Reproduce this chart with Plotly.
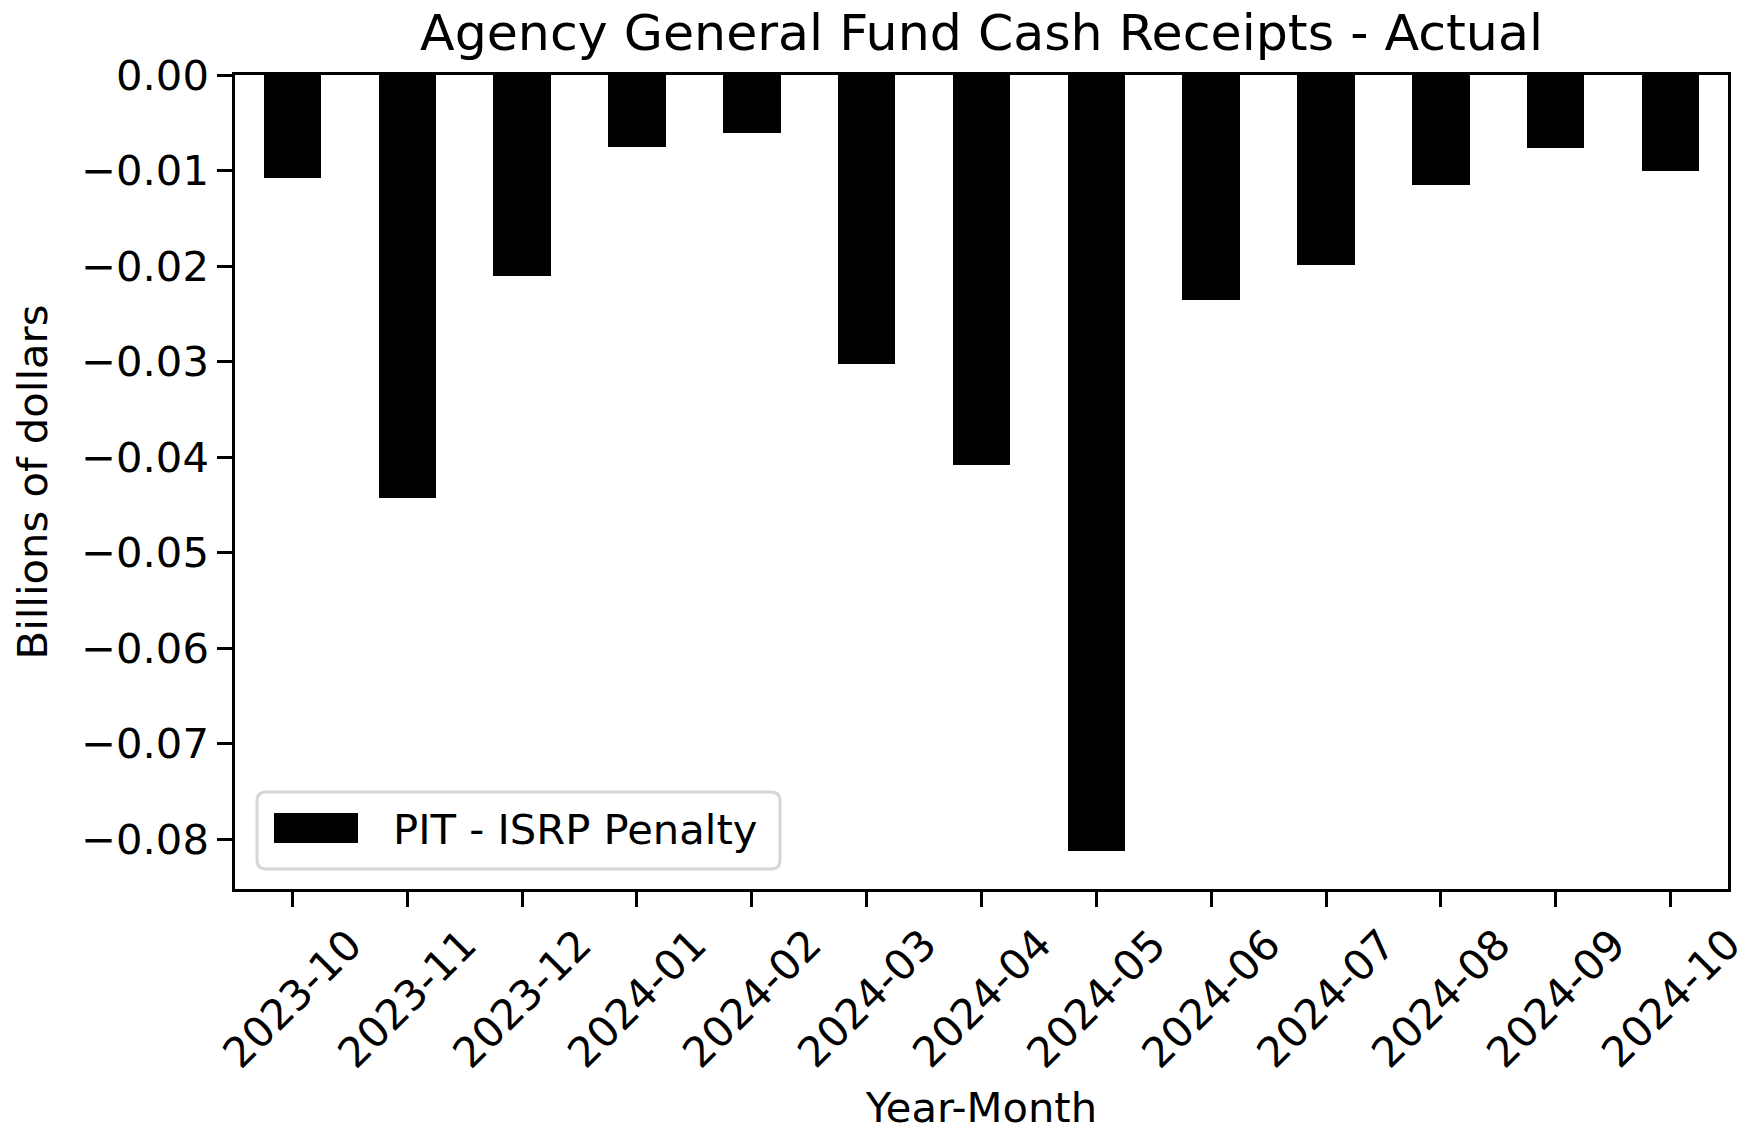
import plotly.graph_objects as go

# Monthly agency general fund cash receipts, PIT - ISRP Penalty (billions of dollars)
months = ["2023-10", "2023-11", "2023-12", "2024-01", "2024-02", "2024-03", "2024-04",
          "2024-05", "2024-06", "2024-07", "2024-08", "2024-09", "2024-10"]
isrp_penalty = [-0.0108, -0.0443, -0.0210, -0.0075, -0.0061, -0.0302, -0.0408,
                -0.0812, -0.0236, -0.0199, -0.0115, -0.0076, -0.0100]
series_name = "PIT - ISRP Penalty"

y_ticks = [0.0, -0.01, -0.02, -0.03, -0.04, -0.05, -0.06, -0.07, -0.08]
y_tick_text = ["0.00" if v == 0 else "\u2212" + f"{abs(v):.2f}" for v in y_ticks]

W, H = 1752, 1132
L, R, T, B = 235, 1728, 75, 889   # plot area in pixels
FONT = "DejaVu Sans"
FS = 41.7        # 10 pt at 300 dpi
FS_TITLE = 50.6  # 12 pt at 300 dpi
LW = 3.3
TICKLEN = 14.6


def px_x(p):
    return (p - L) / (R - L)


def px_y(p):
    return (B - p) / (B - T)


fig = go.Figure()
fig.add_trace(go.Bar(
    x=months, y=isrp_penalty, width=0.5, name=series_name,
    marker=dict(color="black", line=dict(width=0)), showlegend=False,
))

# rotated month labels, centred on each tick
for m in months:
    fig.add_annotation(
        x=m, xref="x", y=px_y(917), yref="paper",
        text=m, textangle=-45, showarrow=False,
        xanchor="center", yanchor="top",
        font=dict(family=FONT, size=FS, color="black"),
    )

# legend box with rounded corners
x0, x1 = px_x(257), px_x(780)
y0, y1 = px_y(869), px_y(792)
rx, ry = 9 / (R - L), 9 / (B - T)
path = (f"M {x0+rx},{y0} L {x1-rx},{y0} Q {x1},{y0} {x1},{y0+ry} "
        f"L {x1},{y1-ry} Q {x1},{y1} {x1-rx},{y1} L {x0+rx},{y1} "
        f"Q {x0},{y1} {x0},{y1-ry} L {x0},{y0+ry} Q {x0},{y0} {x0+rx},{y0} Z")
fig.add_shape(type="path", path=path, xref="paper", yref="paper",
              line=dict(color="#d6d6d6", width=3), fillcolor="rgba(255,255,255,0.8)")
fig.add_shape(type="rect", xref="paper", yref="paper",
              x0=px_x(274), x1=px_x(358), y0=px_y(843), y1=px_y(813),
              line=dict(width=0), fillcolor="black")
fig.add_annotation(x=px_x(391), xref="paper", y=px_y(829), yref="paper",
                   text=series_name, showarrow=False, xanchor="left", yanchor="middle",
                   font=dict(family=FONT, size=FS, color="black"))

axis_common = dict(
    showline=True, linecolor="black", linewidth=LW, mirror=True,
    ticks="outside", ticklen=TICKLEN, tickwidth=LW, tickcolor="black",
    showgrid=False, zeroline=False,
    tickfont=dict(family=FONT, size=FS, color="black"),
)

fig.update_layout(
    width=W, height=H,
    margin=dict(l=L, r=W - R, t=T, b=H - B, autoexpand=False),
    paper_bgcolor="white", plot_bgcolor="white",
    font=dict(family=FONT, size=FS, color="black"),
    title=dict(text="Agency General Fund Cash Receipts - Actual",
               x=0.5, xref="paper", xanchor="center",
               y=1 - 32 / H, yref="container", yanchor="middle",
               font=dict(family=FONT, size=FS_TITLE, color="black")),
    xaxis=dict(axis_common, type="category", categoryorder="array", categoryarray=months,
               range=[-0.5, 12.5], showticklabels=False,
               title=dict(text="Year-Month", standoff=190,
                          font=dict(family=FONT, size=FS, color="black"))),
    yaxis=dict(axis_common, range=[-0.0852, 0], tickvals=y_ticks, ticktext=y_tick_text,
               title=dict(text="Billions of dollars", standoff=21,
                          font=dict(family=FONT, size=FS, color="black"))),
    bargap=0,
)

fig.write_html("out.html")
